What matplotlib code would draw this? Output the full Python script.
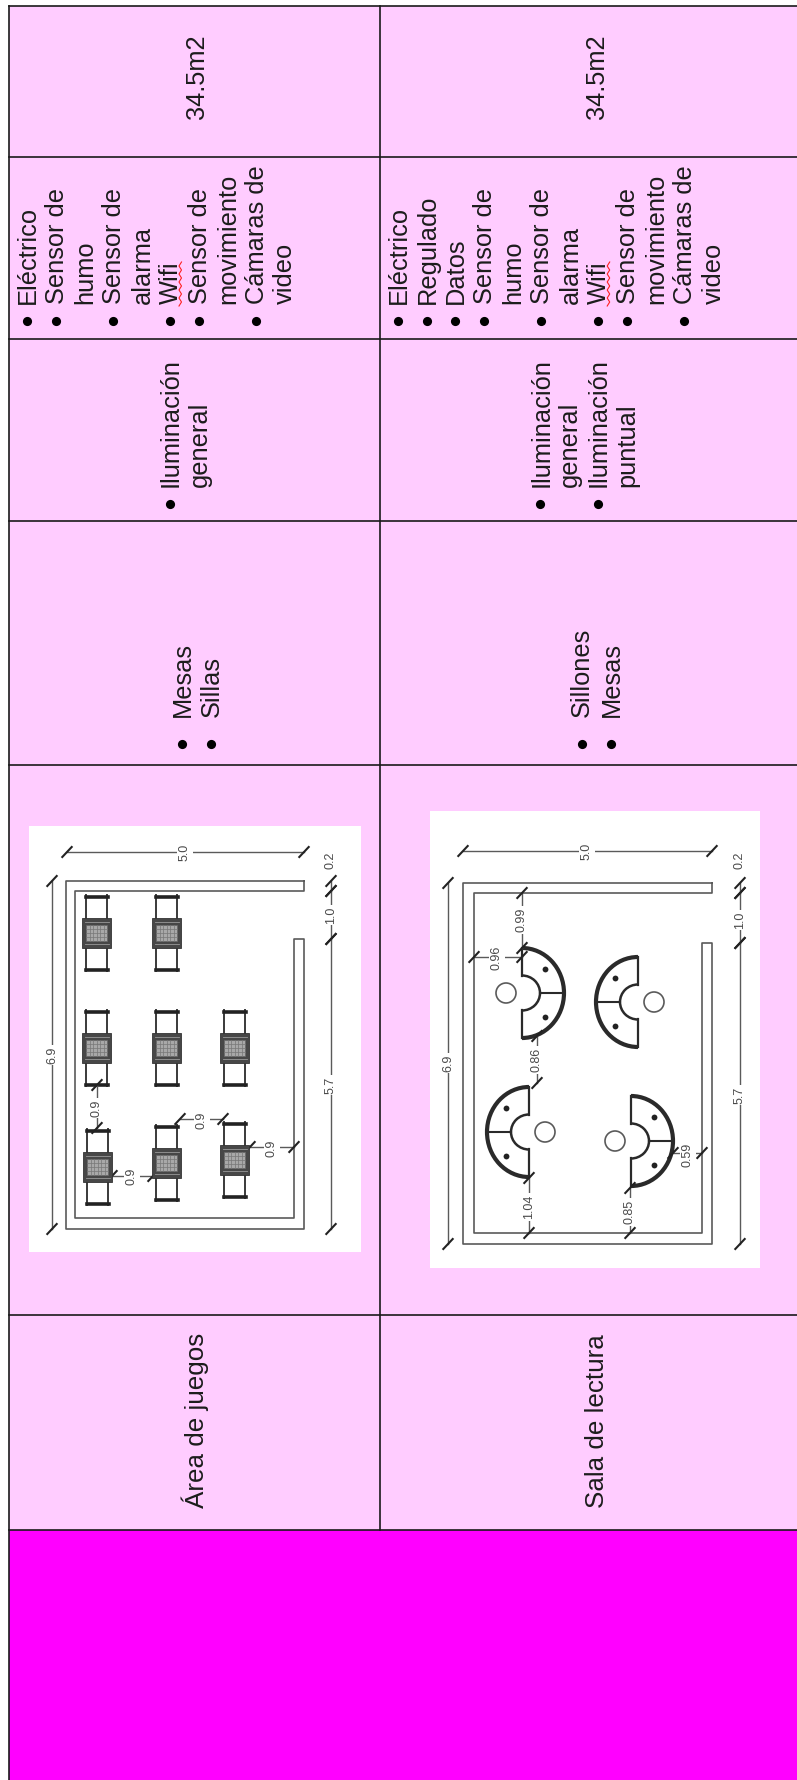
import matplotlib
matplotlib.use('Agg')
import matplotlib.pyplot as plt
from matplotlib.patches import Rectangle, Arc, Circle

plt.rcParams['font.family'] = ['Liberation Sans', 'DejaVu Sans']

# table content, one list per row of the rotated table
room_names = ['Área de juegos', 'Sala de lectura']
areas = ['34.5m2', '34.5m2']
furniture = [['Mesas', 'Sillas'], ['Sillones', 'Mesas']]
# each line of a cell with a flag for its bullet
lighting = [[('Iluminación', 1), ('general', 0)],
            [('Iluminación', 1), ('general', 0), ('Iluminación', 1), ('puntual', 0)]]
services = [[('Eléctrico', 1), ('Sensor de', 1), ('humo', 0), ('Sensor de', 1), ('alarma', 0),
             ('Wifi', 1), ('Sensor de', 1), ('movimiento', 0), ('Cámaras de', 1), ('video', 0)],
            [('Eléctrico', 1), ('Regulado', 1), ('Datos', 1), ('Sensor de', 1), ('humo', 0),
             ('Sensor de', 1), ('alarma', 0), ('Wifi', 1), ('Sensor de', 1), ('movimiento', 0),
             ('Cámaras de', 1), ('video', 0)]]

# drawing of the game area: table centres and dimension labels
game_tables = [(97, 933), (167, 933), (97, 1048), (167, 1048), (235, 1048),
               (98, 1167), (167, 1163), (235, 1160)]
game_dims = [(67, 852, 304, 852, '5.0', 185, 852), (52, 881, 52, 1229, '6.9', 52, 1055),
             (331, 939, 331, 1229, '5.7', 331, 1085), (331, 891, 331, 939, '1.0', 331, 915),
             (331, 881, 331, 891, '0.2', 331, 860), (97, 1085, 97, 1128, '0.9', 97, 1108),
             (112, 1176, 153, 1176, '0.9', 132, 1176), (180, 1119, 223, 1119, '0.9', 202, 1120),
             (250, 1147, 294, 1147, '0.9', 272, 1148)]

# drawing of the reading room: armchairs (flat side x, centre y, side), dimension labels
reading_sofas = [(522, 993, 1), (638, 1002, -1), (529, 1132, -1), (631, 1141, 1)]
reading_dims = [(463, 851, 712, 851, '5.0', 587, 851), (448, 883, 448, 1244, '6.9', 448, 1063),
                (740, 943, 740, 1244, '5.7', 740, 1095), (740, 893, 740, 943, '1.0', 740, 920),
                (740, 883, 740, 893, '0.2', 740, 860), (522, 893, 522, 948, '0.99', 522, 920),
                (474, 957, 522, 957, '0.96', 497, 958), (537, 1036, 537, 1083, '0.86', 537, 1060),
                (529, 1178, 529, 1233, '1.04', 529, 1207), (630, 1188, 630, 1233, '0.85', 630, 1212),
                (673, 1153, 702, 1153, '0.59', 688, 1155)]

PINK = '#FFCCFF'
MAGENTA = '#FF00FF'
LINE = '#1a1a1a'
TXT = '#1c1c1c'
PLAN = '#5a5a5a'

fig = plt.figure(figsize=(7.97, 17.8), dpi=100)
ax = fig.add_axes([0, 0, 1, 1])
ax.set_xlim(0, 797)
ax.set_ylim(1780, 0)
ax.axis('off')


def vtext(x, y, s, size=18.3, **kw):
    ax.text(x, y, s, rotation=90, rotation_mode='anchor', ha='left', va='baseline',
            fontsize=size, color=TXT, **kw)


def bullet_cell(lines, x0, y_text, y_bullet, pitch=28.6):
    for i, (s, has_bullet) in enumerate(lines):
        x = x0 + pitch * i
        vtext(x, y_text, s)
        if has_bullet:
            ax.plot(x - 8, y_bullet, 'o', color='black', ms=6.6, mew=0, zorder=5)
        if s == 'Wifi':
            ys = range(262, 309, 4)
            ax.plot([x + (1 if k % 2 else 3.5) for k in range(len(ys))], list(ys),
                    color='#ff2020', lw=0.8)


def dim(x0, y0, x1, y1, label, lx, ly):
    ax.plot([x0, x1], [y0, y1], color=PLAN, lw=1.0, zorder=3)
    for x, y in [(x0, y0), (x1, y1)]:
        ax.plot([x - 4.7, x + 4.7], [y + 5, y - 5], color='#222222', lw=1.5, zorder=3)
    ax.text(lx, ly, label, rotation=90, ha='center', va='center', fontsize=9, color='#4a4a4a',
            zorder=4, bbox=dict(fc='white', ec='none', pad=1.2))


def walls(xl, xil, xir, xr, yt, yit, yg, yib, yb):
    xs = [xr, xl, xl, xr, xr, xir, xir, xil, xil, xr, xr]
    ys = [yt, yt, yb, yb, yg, yg, yib, yib, yit, yit, yt]
    ax.plot(xs, ys, color=PLAN, lw=1.2, zorder=3)


def table(cx, cy):
    for s in (-1, 1):
        for dx in (-10.5, 10.5):
            ax.plot([cx + dx, cx + dx], [cy + s * 14, cy + s * 38], color='#3a3a3a', lw=1.4, zorder=3)
        ax.plot([cx - 11, cx + 11], [cy + s * 36.5, cy + s * 36.5], color='#222222', lw=2.6, zorder=3)
    ax.add_patch(Rectangle((cx - 14.5, cy - 15), 29, 30, fc='#474747', ec='#333333', lw=0.6, zorder=4))
    ax.add_patch(Rectangle((cx - 10.5, cy - 8), 21, 16, fc='#a8a8a8', ec='#666666', lw=0.5, zorder=5))
    for k in (-7, -3.5, 0, 3.5, 7):
        ax.plot([cx + k, cx + k], [cy - 8, cy + 8], color='#777777', lw=0.5, zorder=6)
    for k in (-4, 0, 4):
        ax.plot([cx - 10.5, cx + 10.5], [cy + k, cy + k], color='#777777', lw=0.5, zorder=6)
    for k in (-11, 11):
        ax.plot([cx - 12, cx + 12], [cy + k, cy + k], color='#999999', lw=0.6, zorder=6)


def sofa(fx, cy, side):
    # side 1 bulges to the right, -1 to the left
    t1, t2 = (-90, 90) if side > 0 else (90, 270)
    ax.add_patch(Arc((fx, cy), 84, 90, theta1=t1, theta2=t2, color='#2a2a2a', lw=3.0, zorder=3))
    ax.add_patch(Arc((fx, cy), 36, 35, theta1=t1, theta2=t2, color='#2a2a2a', lw=1.8, zorder=3))
    for s in (-1, 1):
        ax.plot([fx, fx], [cy + s * 45, cy + s * 17], color='#2a2a2a', lw=1.6, zorder=3)
        ax.plot(fx + side * 23, cy + s * 24, 'o', color='#222222', ms=4.2, mew=0, zorder=3)
    ax.plot([fx + side * 18, fx + side * 41], [cy, cy], color='#2a2a2a', lw=1.5, zorder=3)
    ax.add_patch(Circle((fx - side * 16, cy), 10, fc='none', ec='#5a5a5a', lw=1.2, zorder=3))


# table background and grid
ax.add_patch(Rectangle((9.5, 5.5), 790, 1525, fc=PINK, ec='none'))
ax.add_patch(Rectangle((9.5, 1530), 790, 252, fc=MAGENTA, ec='none'))
for y in [5.5, 156.5, 338.5, 521, 765, 1315, 1530]:
    ax.plot([9.5, 797], [y, y], color=LINE, lw=1.2, zorder=2)
ax.plot([9.5, 9.5], [5.5, 1782], color=LINE, lw=1.2, zorder=2)
ax.plot([380, 380], [5.5, 1530], color=LINE, lw=1.2, zorder=2)

# text columns
for c in range(2):
    vtext(204 + 400 * c, 119, areas[c])
    vtext([204, 604][c], 1508, room_names[c], size=18.7)
bullet_cell(services[0], 35, 304.5, 321)
bullet_cell(services[1], 406, 304.5, 321)
bullet_cell(lighting[0], 178, 487, 503.5)
bullet_cell(lighting[1], 548.5, 487, 503.5)
for i, s in enumerate(furniture[0]):
    vtext(190 + 29.3 * i, 716.7, s)
    ax.plot(182 + 29.3 * i, 743.7, 'o', color='black', ms=6.6, mew=0, zorder=5)
for i, s in enumerate(furniture[1]):
    vtext(589 + 29.6 * i, 716.7, s)
    ax.plot(581.7 + 29.3 * i, 743.7, 'o', color='black', ms=6.6, mew=0, zorder=5)

# game area plan
ax.add_patch(Rectangle((28.7, 825.7), 332, 426, fc='white', ec='none', zorder=2))
walls(66, 75.3, 294, 304, 881, 890.7, 939, 1218.3, 1228.7)
for cx, cy in game_tables:
    table(cx, cy)
for d in game_dims:
    dim(*d)

# reading room plan
ax.add_patch(Rectangle((430, 811), 330, 457.3, fc='white', ec='none', zorder=2))
walls(462.7, 473.7, 701.7, 712, 882.7, 893.3, 943.3, 1233.3, 1244)
for fx, cy, side in reading_sofas:
    sofa(fx, cy, side)
for d in reading_dims:
    dim(*d)

fig.savefig('out.png', dpi=100, facecolor='white')
